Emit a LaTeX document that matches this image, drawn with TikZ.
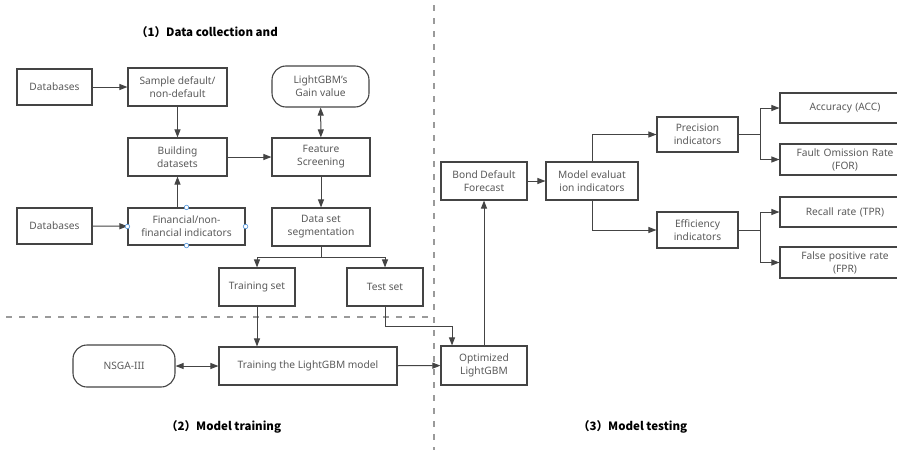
\documentclass[tikz,border=0pt]{standalone}
\usepackage{fontspec}
\setmainfont{Noto Sans}
\newfontfamily\cjk{Noto Sans CJK SC}
\usetikzlibrary{arrows.meta}
\definecolor{txt}{HTML}{5A5A5A}
\definecolor{ln}{HTML}{444444}
\definecolor{dsh}{HTML}{9A9A9A}
\definecolor{hdl}{HTML}{4A90D9}
\tikzset{
  box/.style={draw=ln, line width=1.1pt, fill=white, text=txt, align=center,
    inner sep=1pt, font=\fontsize{10.2}{13}\selectfont},
  rbox/.style={box, rounded corners=14pt},
  arr/.style={draw=ln, line width=1pt, -{Triangle[length=8pt,width=6pt]}},
  darr/.style={draw=ln, line width=1pt, {Triangle[length=8pt,width=6pt]}-{Triangle[length=8pt,width=6pt]}},
  plain/.style={draw=ln, line width=1pt},
  sep/.style={draw=dsh, line width=1.4pt, dash pattern=on 6pt off 7pt},
  ttl/.style={anchor=west, font=\cjk\bfseries\fontsize{11.5}{13}\selectfont, text=black, inner sep=0pt},
  hnd/.style={circle, draw=hdl, fill=white, line width=0.6pt, minimum size=4.5pt, inner sep=0pt}
}
\begin{document}
\begin{tikzpicture}[x=1pt,y=-1pt]
\useasboundingbox (0,0) rectangle (897,450);
\clip (0,0) rectangle (897,450);
% separators
\draw[sep] (434,5) -- (434,450);
\draw[sep] (6,317) -- (434,317);
% titles
\node[ttl] (t1) at (136,32) {（1）Data collection and};
\node[ttl] (t2) at (166,427) {（2）Model training};
\node[ttl] (t3) at (578,427) {（3）Model testing};
% part 1
\node[box, minimum width=75pt, minimum height=36pt] (db1) at (54.5,87) {Databases};
\node[box, minimum width=99pt, minimum height=38pt] (sample) at (177.5,87) {Sample default/\\non-default};
\node[rbox, minimum width=97pt, minimum height=41pt] (gain) at (320.5,86.5) {LightGBM's\\Gain value};
\node[box, minimum width=99pt, minimum height=38pt] (build) at (177.5,157) {Building\\datasets};
\node[box, minimum width=98pt, minimum height=38pt] (feat) at (321,157) {Feature\\Screening};
\node[box, minimum width=75pt, minimum height=36pt] (db2) at (54.5,226) {Databases};
\node[box, minimum width=117pt, minimum height=37pt] (fin) at (186.5,226.5) {Financial/non-\\financial indicators};
\node[box, minimum width=98pt, minimum height=38pt] (seg) at (321,227) {Data set\\segmentation};
\node[box, minimum width=76pt, minimum height=38pt] (train) at (257,287) {Training set};
\node[box, minimum width=76pt, minimum height=38pt] (test) at (385,287) {Test set};
% part 2
\node[rbox, minimum width=102pt, minimum height=42pt] (nsga) at (124,366) {NSGA-III};
\node[box, minimum width=178pt, minimum height=38pt] (tlgbm) at (308,366) {Training the LightGBM model};
% part 3
\node[box, minimum width=86pt, minimum height=39pt] (opt) at (484,365.5) {Optimized\\LightGBM};
\node[box, minimum width=86pt, minimum height=38pt] (bond) at (484,181) {Bond Default\\Forecast};
\node[box, minimum width=92pt, minimum height=38pt] (meval) at (592,181) {Model evaluat\\ion indicators};
\node[box, minimum width=81pt, minimum height=35pt] (prec) at (697.5,134.5) {Precision\\indicators};
\node[box, minimum width=81pt, minimum height=36pt] (eff) at (697.5,230) {Efficiency\\indicators};
\node[box, minimum width=130pt, minimum height=30pt, text width=114pt] (acc) at (845,108) {Accuracy (ACC)};
\node[box, minimum width=130pt, minimum height=31pt, text width=114pt] (for) at (845,159.5) {Fault Omission Rate\\(FOR)};
\node[box, minimum width=130pt, minimum height=30pt, text width=114pt] (tpr) at (845,212) {Recall rate (TPR)};
\node[box, minimum width=130pt, minimum height=31pt, text width=114pt] (fpr) at (845,262.5) {False positive rate\\(FPR)};
% connectors part 1
\draw[arr] (db1) -- (sample);
\draw[arr] (sample) -- (build);
\draw[arr] (build) -- (feat);
\draw[darr] (feat) -- (gain);
\draw[arr] (fin.north -| build) -- (build);
\draw[arr] (db2) -- (fin);
\draw[arr] (feat) -- (seg);
\coordinate (split) at (321,257);
\draw[plain] (seg.south) -- (split);
\draw[arr] (split) -| (train.north);
\draw[arr] (split) -| (test.north);
% handles
\node[hnd] (h1) at (fin.north) {};
\node[hnd] (h2) at (fin.south) {};
\node[hnd] (h3) at (fin.west) {};
\node[hnd] (h4) at (fin.east) {};
% part 2 connectors
\draw[arr] (train.south) -- (train.south |- tlgbm.north);
\draw[darr] (nsga) -- (tlgbm);
\draw[arr] (tlgbm) -- (opt);
\coordinate (tc1) at (385,326);
\coordinate (tc2) at (452,326);
\draw[arr] (test.south) -- (tc1) -- (tc2) -- (tc2 |- opt.north);
% part 3 connectors
\draw[arr] (opt) -- (bond);
\draw[arr] (bond) -- (meval);
\draw[arr] (meval.north) |- (prec.west);
\draw[arr] (meval.south) |- (eff.west);
\coordinate (b1) at (760,134.5);
\coordinate (b2) at (760,230);
\draw[plain] (prec.east) -- (b1);
\draw[arr] (b1) |- (acc.west);
\draw[arr] (b1) |- (for.west);
\draw[plain] (eff.east) -- (b2);
\draw[arr] (b2) |- (tpr.west);
\draw[arr] (b2) |- (fpr.west);
\end{tikzpicture}
\end{document}
